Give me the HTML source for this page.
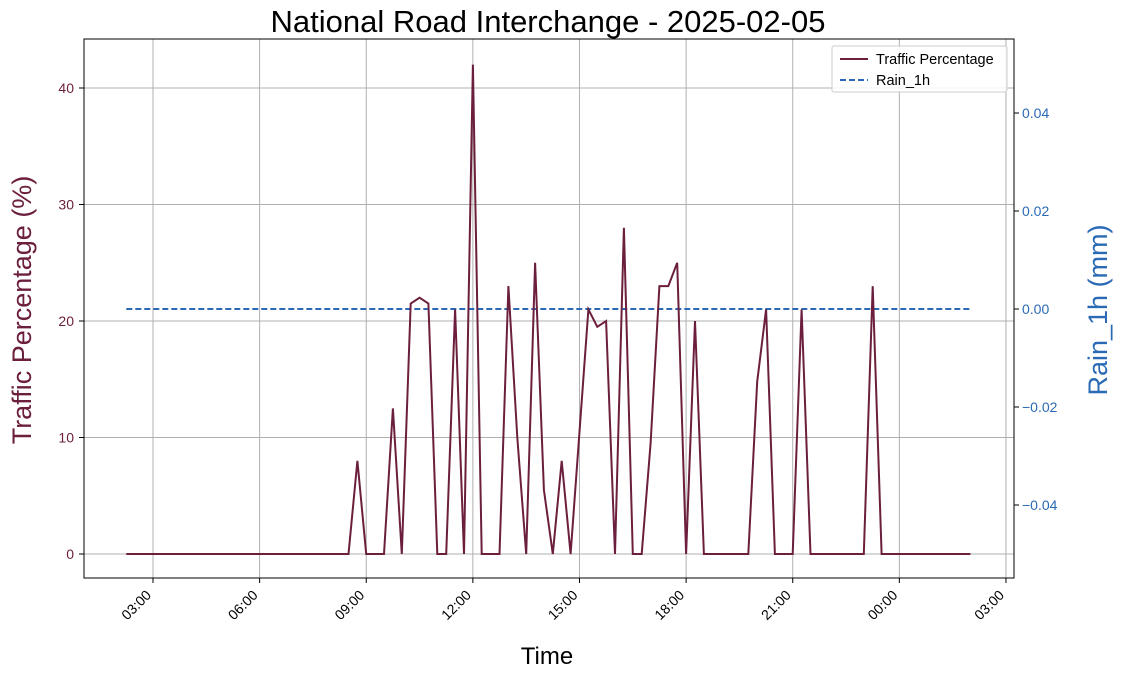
<!DOCTYPE html>
<html><head><meta charset="utf-8"><style>
body{margin:0;background:#fff;}
svg{display:block;font-family:"Liberation Sans","DejaVu Sans",sans-serif;}
</style></head><body>
<svg id="chart" width="1122" height="677">
<text x="548" y="32" font-size="31" text-anchor="middle">National Road Interchange - 2025-02-05</text>
<g id="grid"></g>
<g id="series"></g>
<rect x="84" y="39" width="930" height="539" fill="none" stroke="#000" stroke-width="1"/>
<g id="axes"></g>
<text x="547" y="664" font-size="24" text-anchor="middle">Time</text>
<text transform="translate(31,310) rotate(-90)" font-size="27" fill="#6b1f3c" text-anchor="middle">Traffic Percentage (%)</text>
<text transform="translate(1107,310) rotate(-90)" font-size="27" fill="#2a6ab5" text-anchor="middle">Rain_1h (mm)</text>
<g>
<rect x="832" y="46" width="175" height="46" fill="#fff" fill-opacity="0.85" stroke="#ccc" rx="2"/>
<line x1="840" y1="59" x2="868" y2="59" stroke="#6b1f3c" stroke-width="2"/>
<text x="876" y="64" font-size="14.5">Traffic Percentage</text>
<line x1="840" y1="80" x2="868" y2="80" stroke="#2a6ab5" stroke-width="2" stroke-dasharray="6,3"/>
<text x="876" y="85" font-size="14.5">Rain_1h</text>
</g>
</svg>
<script>
const traffic=[0,0,0,0,0,0,0,0,0,0,0,0,0,0,0,0,0,0,0,0,0,0,0,0,0,0,8,0,0,0,12.5,0,21.5,22,21.5,0,0,21,0,42,0,0,0,23,10,0,25,5.5,0,8,0,10.5,21,19.5,20,0,28,0,0,9.5,23,23,25,0,20,0,0,0,0,0,0,14.8,21,0,0,0,21,0,0,0,0,0,0,0,23,0,0,0,0,0,0,0,0,0,0,0];
const rain=traffic.map(()=>0);
const startHour=2.25, stepHour=0.25;
const xTickLabels=["03:00","06:00","09:00","12:00","15:00","18:00","21:00","00:00","03:00"];
const xTickHours=[3,6,9,12,15,18,21,24,27];
const yTicks=[0,10,20,30,40];
const y2Ticks=[-0.04,-0.02,0,0.02,0.04];
const NS="http://www.w3.org/2000/svg";
const X=h=>153+(h-3)*35.54;
const Y=v=>554-v*11.65;
const Y2=v=>309-v*4900;
function mk(tag,attrs,parent,text){const e=document.createElementNS(NS,tag);for(const k in attrs)e.setAttribute(k,attrs[k]);if(text!==undefined)e.textContent=text;parent.appendChild(e);return e;}
const grid=document.getElementById('grid'),axes=document.getElementById('axes'),series=document.getElementById('series');
xTickHours.forEach((h,i)=>{const x=X(h);
 const g=mk('line',{x1:x,x2:x,y1:39,y2:578,stroke:'#b0b0b0','stroke-width':1},grid);
 
 mk('line',{x1:x,x2:x,y1:578,y2:583,stroke:'#000'},axes);
 const t=mk('text',{transform:`translate(${x-1},${596}) rotate(-45)`,'font-size':14,'text-anchor':'end'},axes,xTickLabels[i]);
 });
yTicks.forEach(v=>{const y=Y(v);
 const g=mk('line',{x1:84,x2:1014,y1:y,y2:y,stroke:'#b0b0b0','stroke-width':1},grid);
 
 mk('line',{x1:79,x2:84,y1:y,y2:y,stroke:'#000'},axes);
 const t=mk('text',{x:74,y:y+5,'font-size':14,'text-anchor':'end',fill:'#6b1f3c'},axes,String(v));
 });
y2Ticks.forEach(v=>{const y=Y2(v);
 mk('line',{x1:1014,x2:1019,y1:y,y2:y,stroke:'#000'},axes);
 const t=mk('text',{x:1022,y:y+5,'font-size':14,fill:'#2a6ab5'},axes,(v<0?'\u2212':'')+Math.abs(v).toFixed(2));
 });
const rp=rain.map((v,i)=>`${X(startHour+i*stepHour).toFixed(1)},${Y2(v).toFixed(1)}`).join(' ');
const rl=mk('polyline',{points:rp,fill:'none',stroke:'#2a6ab5','stroke-width':2,'stroke-dasharray':'6,3'},series);

const tp=traffic.map((v,i)=>`${X(startHour+i*stepHour).toFixed(1)},${Y(v).toFixed(1)}`).join(' ');
const tl=mk('polyline',{points:tp,fill:'none',stroke:'#6b1f3c','stroke-width':2,'stroke-linejoin':'miter'},series);

</script>
</body></html>
